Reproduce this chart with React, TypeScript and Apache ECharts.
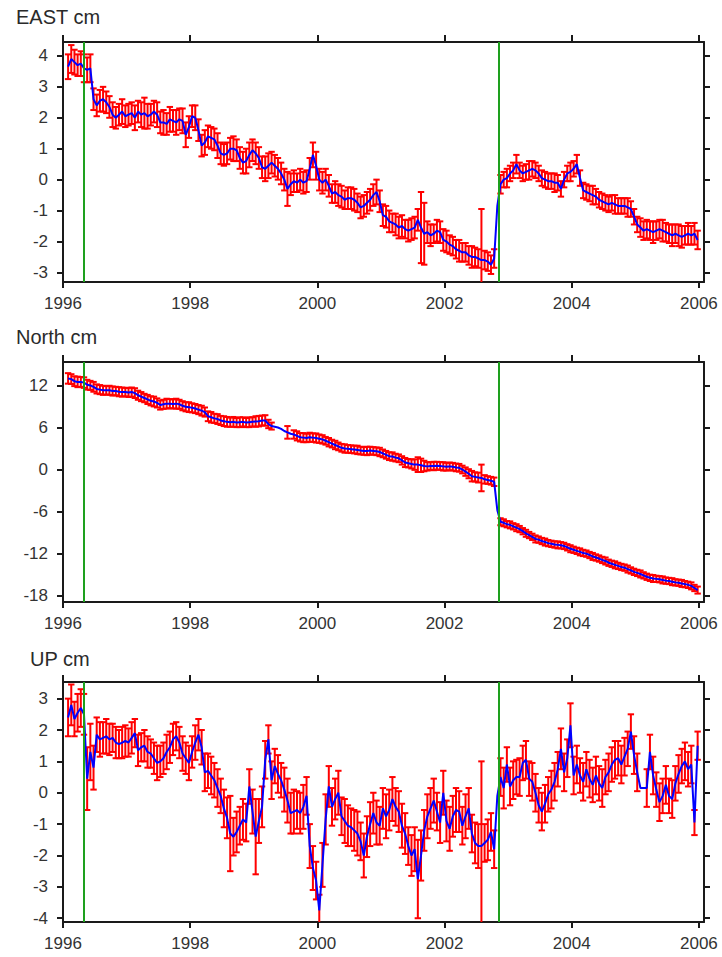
import React, { useEffect, useRef } from "react";
import * as echarts from "echarts";

// Observation epochs (decimal years), shared by the three components
const epochs = [
  1996.08, 1996.13, 1996.18, 1996.23, 1996.28, 1996.33, 1996.38, 1996.43, 1996.48, 1996.53,
  1996.58, 1996.63, 1996.68, 1996.73, 1996.78, 1996.83, 1996.88, 1996.93, 1996.98, 1997.03,
  1997.08, 1997.13, 1997.18, 1997.23, 1997.28, 1997.33, 1997.38, 1997.43, 1997.48, 1997.53,
  1997.58, 1997.63, 1997.68, 1997.73, 1997.78, 1997.83, 1997.88, 1997.93, 1997.98, 1998.03,
  1998.08, 1998.13, 1998.18, 1998.23, 1998.28, 1998.33, 1998.38, 1998.43, 1998.48, 1998.53,
  1998.58, 1998.63, 1998.68, 1998.73, 1998.78, 1998.83, 1998.88, 1998.93, 1998.98, 1999.03,
  1999.08, 1999.13, 1999.18, 1999.23, 1999.28, 1999.33, 1999.38, 1999.43, 1999.48, 1999.53,
  1999.58, 1999.63, 1999.68, 1999.73, 1999.78, 1999.83, 1999.88, 1999.93, 1999.98, 2000.03,
  2000.08, 2000.13, 2000.18, 2000.23, 2000.28, 2000.33, 2000.38, 2000.43, 2000.48, 2000.53,
  2000.58, 2000.63, 2000.68, 2000.73, 2000.78, 2000.83, 2000.88, 2000.93, 2000.98, 2001.03,
  2001.08, 2001.13, 2001.18, 2001.23, 2001.28, 2001.33, 2001.38, 2001.43, 2001.48, 2001.53,
  2001.58, 2001.63, 2001.68, 2001.73, 2001.78, 2001.83, 2001.88, 2001.93, 2001.98, 2002.03,
  2002.08, 2002.13, 2002.18, 2002.23, 2002.28, 2002.33, 2002.38, 2002.43, 2002.48, 2002.53,
  2002.58, 2002.63, 2002.68, 2002.73, 2002.78, 2002.83, 2002.88, 2002.93, 2002.98, 2003.03,
  2003.08, 2003.13, 2003.18, 2003.23, 2003.28, 2003.33, 2003.38, 2003.43, 2003.48, 2003.53,
  2003.58, 2003.63, 2003.68, 2003.73, 2003.78, 2003.83, 2003.88, 2003.93, 2003.98, 2004.03,
  2004.08, 2004.13, 2004.18, 2004.23, 2004.28, 2004.33, 2004.38, 2004.43, 2004.48, 2004.53,
  2004.58, 2004.63, 2004.68, 2004.73, 2004.78, 2004.83, 2004.88, 2004.93, 2004.98, 2005.03,
  2005.08, 2005.13, 2005.18, 2005.23, 2005.28, 2005.33, 2005.38, 2005.43, 2005.48, 2005.53,
  2005.58, 2005.63, 2005.68, 2005.73, 2005.78, 2005.83, 2005.88, 2005.93, 2005.98,
];

const eastCm = [
  3.65, 3.9, 3.8, 3.7, 3.75, 3.6, 3.55, 3.6, 2.6, 2.4,
  2.55, 2.6, 2.5, 2.35, 2.1, 2.0, 2.1, 2.2, 2.05, 2.1,
  2.15, 2.0, 2.2, 2.1, 2.15, 2.05, 2.1, 2.2, 2.1, 1.85,
  1.85, 1.8, 1.95, 1.9, 1.85, 1.95, 1.9, 1.45, 1.7, 2.05,
  2.0, 1.6, 1.1, 1.2, 1.4, 1.35, 1.3, 1.1, 0.85, 0.8,
  0.85, 1.0, 1.0, 0.95, 0.7, 0.55, 0.6, 0.8, 0.95, 0.85,
  0.7, 0.4, 0.35, 0.45, 0.55, 0.45, 0.35, 0.2, 0.0, -0.3,
  -0.15, -0.05, -0.1, 0.0, -0.1, -0.05, 0.35, 0.8, 0.45, 0.0,
  -0.1, 0.0, -0.2, -0.45, -0.4, -0.5, -0.55, -0.65, -0.6, -0.6,
  -0.65, -0.75, -0.9, -0.85, -0.75, -0.65, -0.5, -0.4, -0.7, -1.15,
  -1.2, -1.35, -1.4, -1.45, -1.55, -1.5, -1.6, -1.65, -1.6, -1.55,
  -1.3, -1.55, -1.75, -1.7, -1.8, -1.75, -1.65, -1.7, -1.95, -2.0,
  -2.1, -2.15, -2.25, -2.3, -2.35, -2.35, -2.45, -2.5, -2.5, -2.55,
  -2.6, -2.6, -2.65, -2.75, -2.55, -0.85, -0.15, 0.0, 0.05, 0.2,
  0.3, 0.5, 0.3, 0.2, 0.25, 0.3, 0.35, 0.3, 0.2, 0.05,
  0.0, -0.05, -0.05, -0.1, -0.1, -0.3, 0.0, 0.2, 0.25, 0.35,
  0.5, 0.05, -0.35, -0.4, -0.45, -0.5, -0.55, -0.65, -0.7, -0.75,
  -0.8, -0.75, -0.8, -0.85, -0.85, -0.85, -0.9, -0.95, -1.2, -1.45,
  -1.55, -1.65, -1.6, -1.65, -1.7, -1.65, -1.6, -1.65, -1.7, -1.75,
  -1.8, -1.75, -1.8, -1.85, -1.8, -1.75, -1.8, -1.75, -1.95,
];

const eastSigma = [
  0.4, 0.45, 0.4, 0.35, 0.4, 0.45, 0.4, 0.45, 0.35, 0.35,
  0.35, 0.4, 0.35, 0.35, 0.4, 0.35, 0.35, 0.4, 0.35, 0.35,
  0.35, 0.4, 0.35, 0.4, 0.5, 0.4, 0.35, 0.35, 0.4, 0.35,
  0.4, 0.35, 0.4, 0.35, 0.4, 0.35, 0.4, 0.4, 0.35, 0.35,
  0.4, 0.35, 0.35, 0.4, 0.35, 0.35, 0.35, 0.4, 0.35, 0.35,
  0.35, 0.35, 0.4, 0.35, 0.35, 0.35, 0.4, 0.4, 0.35, 0.35,
  0.35, 0.35, 0.4, 0.4, 0.35, 0.35, 0.35, 0.35, 0.35, 0.55,
  0.35, 0.35, 0.3, 0.35, 0.35, 0.35, 0.35, 0.4, 0.45, 0.35,
  0.35, 0.35, 0.35, 0.3, 0.35, 0.35, 0.35, 0.3, 0.35, 0.35,
  0.35, 0.3, 0.35, 0.35, 0.35, 0.35, 0.35, 0.4, 0.35, 0.35,
  0.35, 0.35, 0.3, 0.35, 0.35, 0.35, 0.3, 0.35, 0.35, 0.35,
  0.35, 1.15, 1.0, 0.35, 0.35, 0.3, 0.35, 0.35, 0.35, 0.35,
  0.3, 0.3, 0.3, 0.35, 0.3, 0.3, 0.3, 0.35, 0.3, 0.3,
  1.65, 0.3, 0.3, 0.3, 0.3, null, 0.3, 0.25, 0.3, 0.25,
  0.25, 0.3, 0.25, 0.25, 0.25, 0.3, 0.25, 0.25, 0.25, 0.25,
  0.25, 0.25, 0.25, 0.3, 0.25, 0.25, 0.25, 0.25, 0.3, 0.25,
  0.3, 0.25, 0.25, 0.25, 0.25, 0.3, 0.25, 0.25, 0.25, 0.25,
  0.25, 0.25, 0.3, 0.25, 0.25, 0.25, 0.3, 0.25, 0.25, 0.25,
  0.3, 0.3, 0.3, 0.3, 0.35, 0.3, 0.3, 0.35, 0.3, 0.3,
  0.35, 0.3, 0.35, 0.35, 0.3, 0.35, 0.3, 0.35, 0.3,
];

const northCm = [
  13.0, 12.9, 12.6, 12.5, 12.5, 12.4, 12.1, 12.0, 11.8, 11.5,
  11.4, 11.3, 11.3, 11.3, 11.2, 11.2, 11.1, 11.05, 11.05, 11.0,
  11.05, 10.9, 10.6, 10.4, 10.2, 10.0, 9.8, 9.7, 9.5, 9.2,
  9.3, 9.4, 9.4, 9.35, 9.4, 9.3, 9.1, 8.95, 8.9, 8.8,
  8.7, 8.55, 8.4, 8.2, 7.6, 7.45, 7.3, 7.2, 7.0, 6.9,
  6.8, 6.75, 6.8, 6.7, 6.75, 6.8, 6.7, 6.75, 6.8, 6.85,
  6.9, 7.0, 7.0, 6.5, 6.2, 6.1, 6.0, 5.8, 5.5, 5.3,
  5.1, 5.0, 4.8, 4.6, 4.55, 4.5, 4.6, 4.55, 4.5, 4.4,
  4.3, 4.1, 3.9, 3.7, 3.5, 3.3, 3.1, 3.0, 2.95, 2.9,
  2.85, 2.8, 2.7, 2.65, 2.65, 2.7, 2.65, 2.6, 2.5, 2.3,
  2.1, 1.9, 1.85, 1.7, 1.6, 1.3, 1.0, 0.9, 0.8, 0.7,
  0.7, 0.6, 0.5, 0.45, 0.5, 0.5, 0.55, 0.5, 0.45, 0.4,
  0.45, 0.4, 0.3, 0.25, 0.0, -0.3, -0.6, -0.95, -1.05, -1.15,
  -1.2, -1.4, -1.5, -1.6, -1.75, -5.8, -7.45, -7.6, -7.8, -7.9,
  -8.1, -8.3, -8.5, -8.8, -9.1, -9.35, -9.6, -9.9, -10.0, -10.2,
  -10.35, -10.5, -10.6, -10.7, -10.75, -10.8, -10.9, -11.1, -11.3, -11.45,
  -11.6, -11.75, -11.9, -12.0, -12.2, -12.4, -12.55, -12.7, -12.9, -13.05,
  -13.3, -13.45, -13.6, -13.75, -13.9, -14.0, -14.2, -14.4, -14.6, -14.75,
  -14.9, -15.1, -15.3, -15.45, -15.55, -15.6, -15.65, -15.75, -15.85, -15.9,
  -16.0, -16.1, -16.15, -16.25, -16.35, -16.45, -16.6, -16.9, -17.2,
];

const northSigma = [
  0.75, 0.7, 0.7, 0.75, 0.7, 0.75, 0.7, 0.65, 0.7, 0.65,
  0.65, 0.65, 0.6, 0.65, 0.65, 0.6, 0.65, 0.65, 0.6, 0.65,
  0.65, 0.7, 0.65, 0.65, 0.6, 0.65, 0.65, 0.7, 0.65, 0.65,
  0.65, 0.7, 0.65, 0.65, 0.7, 0.65, 0.65, 0.65, 0.7, 0.65,
  0.65, 0.65, 0.7, 0.65, 0.7, 0.75, 0.65, 0.7, 0.65, 0.7,
  0.7, 0.65, 0.7, 0.65, 0.7, 0.65, 0.65, 0.7, 0.65, 0.75,
  0.75, 0.7, 0.75, 0.6, 0.5, null, null, null, null, 0.9,
  null, 0.6, 0.65, 0.6, 0.65, 0.6, 0.65, 0.6, 0.65, 0.6,
  0.6, 0.55, 0.6, 0.55, 0.6, 0.55, 0.55, 0.6, 0.55, 0.55,
  0.55, 0.6, 0.55, 0.55, 0.6, 0.55, 0.55, 0.55, 0.6, 0.55,
  0.55, 0.55, 0.6, 0.55, 0.55, 0.6, 0.65, 0.6, 0.65, 0.75,
  1.05, 0.95, 0.75, 0.6, 0.55, 0.6, 0.55, 0.55, 0.6, 0.55,
  0.55, 0.55, 0.55, 0.55, 0.55, 0.6, 0.65, 0.75, 0.65, 0.7,
  1.9, 0.6, 0.55, 0.55, 0.6, null, 0.5, 0.5, 0.45, 0.5,
  0.45, 0.5, 0.45, 0.45, 0.5, 0.45, 0.45, 0.5, 0.45, 0.45,
  0.5, 0.45, 0.45, 0.45, 0.5, 0.45, 0.45, 0.45, 0.5, 0.45,
  0.45, 0.5, 0.45, 0.45, 0.45, 0.5, 0.45, 0.45, 0.45, 0.5,
  0.45, 0.45, 0.5, 0.45, 0.45, 0.45, 0.5, 0.45, 0.45, 0.45,
  0.5, 0.45, 0.45, 0.45, 0.5, 0.45, 0.45, 0.5, 0.45, 0.45,
  0.5, 0.45, 0.45, 0.5, 0.45, 0.45, 0.5, 0.45, 0.5,
];

const upCm = [
  2.4, 2.8, 2.35, 2.55, 2.7, 2.5, 0.45, 1.3, 0.8, 1.85,
  1.7, 1.75, 1.8, 1.7, 1.75, 1.6, 1.55, 1.6, 1.65, 1.6,
  1.75, 1.9, 1.35, 1.45, 1.5, 1.3, 1.25, 1.1, 0.95, 1.0,
  1.1, 1.3, 1.45, 1.7, 1.8, 1.6, 1.25, 1.1, 0.95, 1.3,
  1.6, 1.85, 1.45, 0.65, 0.7, 0.55, 0.4, 0.15, -0.1, -0.5,
  -0.8, -1.3, -1.4, -1.25, -1.05, -0.85, -0.95, 0.2, -0.6, -1.4,
  -0.9, -0.45, 1.05, 1.7, 0.4, 0.85, 0.6, 0.4, 0.1, -0.25,
  -0.65, -0.6, -0.55, -0.65, -0.45, -0.1, -1.7, -2.4, -2.8, -3.75,
  -2.3, -0.85, 0.2, -0.45, -0.2, 0.0, -0.75, -0.9, -1.05, -1.1,
  -1.2, -1.3, -1.55, -2.0, -1.4, -1.0, -0.65, -0.95, -1.05, -0.5,
  -0.75, -0.55, -0.2, -0.45, -0.6, -1.05, -1.3, -1.7, -2.0, -1.8,
  -2.75, -2.0, -1.2, -0.75, -0.5, -0.25, -0.6, -0.95, 0.0, -0.9,
  -1.15, -0.75, -0.55, -0.6, -1.05, -0.75, -0.5, -1.3, -1.6, -1.7,
  -1.7, -1.6, -1.5, -1.25, -1.8, -0.1, 0.5, 0.15, 0.9, 0.2,
  0.4, 0.5, 0.5, 0.95, 1.05, 0.45, 0.35, 0.0, -0.4, -0.6,
  -0.35, -0.05, 0.1, 0.35, 0.75, 1.4, 0.65, 1.1, 2.15, 0.55,
  0.9, 0.55, 0.35, 0.75, 0.45, 0.25, 0.55, 0.3, 0.15, 0.5,
  0.65, 0.9, 1.05, 1.1, 0.9, 1.15, 1.4, 1.95, 1.2, 0.65,
  0.15, 0.15, 0.15, 1.3, 0.55, 0.1, -0.3, -0.1, 0.25, -0.1,
  -0.2, 0.3, 0.6, 0.85, 1.0, 0.75, 0.9, -0.95, 1.5,
];

const upSigma = [
  0.6, 0.65, 0.55, 0.6, 0.6, 0.65, 1.0, 0.9, 0.7, 0.55,
  0.55, 0.5, 0.55, 0.5, 0.45, 0.5, 0.45, 0.5, 0.5, 0.45,
  0.5, 0.45, 0.5, 0.45, 0.5, 0.5, 0.45, 0.5, 0.55, 0.5,
  0.5, 0.55, 0.5, 0.5, 0.45, 0.5, 0.55, 0.5, 0.55, 0.5,
  0.55, 0.5, 0.55, 0.6, 0.55, 0.6, 0.55, 0.6, 0.55, 0.6,
  0.65, 1.2, 0.6, 0.65, 0.6, 0.65, 0.6, 0.55, 0.7, 1.2,
  0.7, 0.65, 0.6, 0.45, 0.6, 0.55, 0.6, 0.55, 0.7, 0.7,
  0.65, 0.7, 0.6, 0.65, 0.7, 0.6, 0.7, 0.7, 0.6, 0.5,
  0.7, 0.8, 0.65, 0.6, 0.65, 0.7, 0.6, 0.7, 0.65, 0.6,
  0.65, 0.7, 0.6, 0.7, 0.65, 0.7, 0.65, 0.7, 0.6, 0.65,
  0.7, 0.65, 0.7, 0.6, 0.65, 0.7, 0.65, 0.6, 0.65, 0.7,
  1.25, 0.8, 0.65, 0.7, 0.65, 0.7, 0.6, 0.65, 0.7, 0.65,
  0.7, 0.65, 0.7, 0.65, 0.6, 0.7, 0.65, 0.6, 0.65, 0.7,
  2.7, 0.6, 0.65, 0.6, 0.6, null, 0.6, 0.65, 0.55, 0.6,
  0.6, 0.55, 0.6, 0.55, 0.6, 0.55, 0.6, 0.6, 0.55, 0.6,
  0.6, 0.55, 0.6, 0.6, 0.55, 0.65, 0.6, 0.6, 0.7, 0.6,
  0.6, 0.55, 0.6, 0.55, 0.6, 0.55, 0.6, 0.55, 0.6, 0.55,
  0.6, 0.55, 0.6, 0.55, 0.6, 0.6, 0.55, 0.55, 0.6, 0.6,
  null, null, 0.6, 0.55, 0.6, 0.55, 0.6, 0.55, 0.6, 0.55,
  0.6, 0.55, 0.6, 0.55, 0.6, 0.55, 0.6, 0.4, 0.45,
];

// Offsets (earthquake / equipment events) marked by green lines
const eventEpochs = [1996.33, 2002.86];

const yearTicks = [1996, 1998, 2000, 2002, 2004, 2006];
const eastTicks = [-3, -2, -1, 0, 1, 2, 3, 4];
const northTicks = [-18, -12, -6, 0, 6, 12];
const upTicks = [-4, -3, -2, -1, 0, 1, 2, 3];
const panelTitles = ["EAST cm", "North cm", "UP cm"];

const FONT = '"Liberation Sans", Arial, Helvetica, sans-serif';

export default function App() {
  const ref = useRef<HTMLDivElement>(null);

  useEffect(() => {
    if (!ref.current) return;
    const chart = echarts.init(ref.current, null, { renderer: "svg" });

    const panels = [
      { values: eastCm, sigma: eastSigma, ticks: eastTicks, min: -3.31, max: 4.45, top: 42, titleLeft: 16, titleTop: 7 },
      { values: northCm, sigma: northSigma, ticks: northTicks, min: -18.9, max: 15.34, top: 362, titleLeft: 16, titleTop: 327 },
      { values: upCm, sigma: upSigma, ticks: upTicks, min: -4.12, max: 3.53, top: 682, titleLeft: 30, titleTop: 649 },
    ];

    const axisLine = { show: true, onZero: false, lineStyle: { color: "#1a1a1a", width: 2 } };
    const tickStyle = { color: "#1a1a1a", width: 2 };
    const labelStyle = { fontSize: 17, color: "#333", fontFamily: FONT };

    const grid: any[] = [];
    const xAxis: any[] = [];
    const yAxis: any[] = [];
    const series: any[] = [];
    const title: any[] = [];

    panels.forEach((p, i) => {
      grid.push({ left: 63, top: p.top, width: 641, height: 240 });
      title.push({
        text: panelTitles[i],
        left: p.titleLeft,
        top: p.titleTop,
        padding: 0,
        textStyle: { fontSize: 20, fontWeight: "normal", color: "#2a2a2a", fontFamily: FONT },
      });
      xAxis.push({
        type: "value", gridIndex: i, position: "bottom", min: 1996, max: 2006.08, interval: 2,
        axisLine, splitLine: { show: false },
        axisTick: { show: true, length: 6, lineStyle: tickStyle, customValues: yearTicks },
        axisLabel: { ...labelStyle, margin: 13, customValues: yearTicks, formatter: (v: number) => String(v) },
      });
      xAxis.push({
        type: "value", gridIndex: i, position: "top", min: 1996, max: 2006.08, interval: 2,
        axisLine, splitLine: { show: false },
        axisTick: { show: true, length: 7, lineStyle: tickStyle, customValues: yearTicks },
        axisLabel: { show: false },
      });
      yAxis.push({
        type: "value", gridIndex: i, position: "left", min: p.min, max: p.max,
        axisLine, splitLine: { show: false },
        axisTick: { show: true, length: 6, lineStyle: tickStyle, customValues: p.ticks },
        axisLabel: { ...labelStyle, margin: 15, customValues: p.ticks, formatter: (v: number) => String(v) },
      });
      yAxis.push({
        type: "value", gridIndex: i, position: "right", min: p.min, max: p.max,
        axisLine, splitLine: { show: false },
        axisTick: { show: true, length: 6, lineStyle: tickStyle, customValues: p.ticks },
        axisLabel: { show: false },
      });

      const barData: any[] = [];
      const lineData: any[] = [];
      epochs.forEach((t, k) => {
        lineData.push([t, p.values[k]]);
        if (p.sigma[k] != null) barData.push([t, p.values[k], p.sigma[k]]);
      });

      series.push({
        type: "custom",
        xAxisIndex: 2 * i,
        yAxisIndex: 2 * i,
        clip: true,
        silent: true,
        z: 2,
        encode: { x: 0, y: 1 },
        data: barData,
        renderItem: (_params: any, api: any) => {
          const t = api.value(0);
          const v = api.value(1);
          const s = api.value(2);
          const hi = api.coord([t, v + s]);
          const lo = api.coord([t, v - s]);
          const hw = 3.2;
          const style = { stroke: "#ff0000", lineWidth: 2 };
          return {
            type: "group",
            children: [
              { type: "line", shape: { x1: hi[0], y1: hi[1], x2: lo[0], y2: lo[1] }, style },
              { type: "line", shape: { x1: hi[0] - hw, y1: hi[1], x2: hi[0] + hw, y2: hi[1] }, style },
              { type: "line", shape: { x1: lo[0] - hw, y1: lo[1], x2: lo[0] + hw, y2: lo[1] }, style },
            ],
          };
        },
      });

      series.push({
        type: "line",
        xAxisIndex: 2 * i,
        yAxisIndex: 2 * i,
        data: lineData,
        showSymbol: false,
        symbol: "none",
        silent: true,
        z: 3,
        lineStyle: { color: "#0000ff", width: 2 },
        itemStyle: { color: "#0000ff" },
        markLine: {
          symbol: ["none", "none"],
          silent: true,
          label: { show: false },
          lineStyle: { color: "#1ea01e", width: 2, type: "solid" },
          data: eventEpochs.map((x) => ({ xAxis: x })),
        },
      });
    });

    chart.setOption({
      animation: false,
      backgroundColor: "#ffffff",
      title,
      grid,
      xAxis,
      yAxis,
      series,
    });

    return () => chart.dispose();
  }, []);

  return (
    <div
      ref={ref}
      style={{ position: "absolute", left: 0, top: 0, width: 722, height: 957, background: "#fff" }}
    />
  );
}
